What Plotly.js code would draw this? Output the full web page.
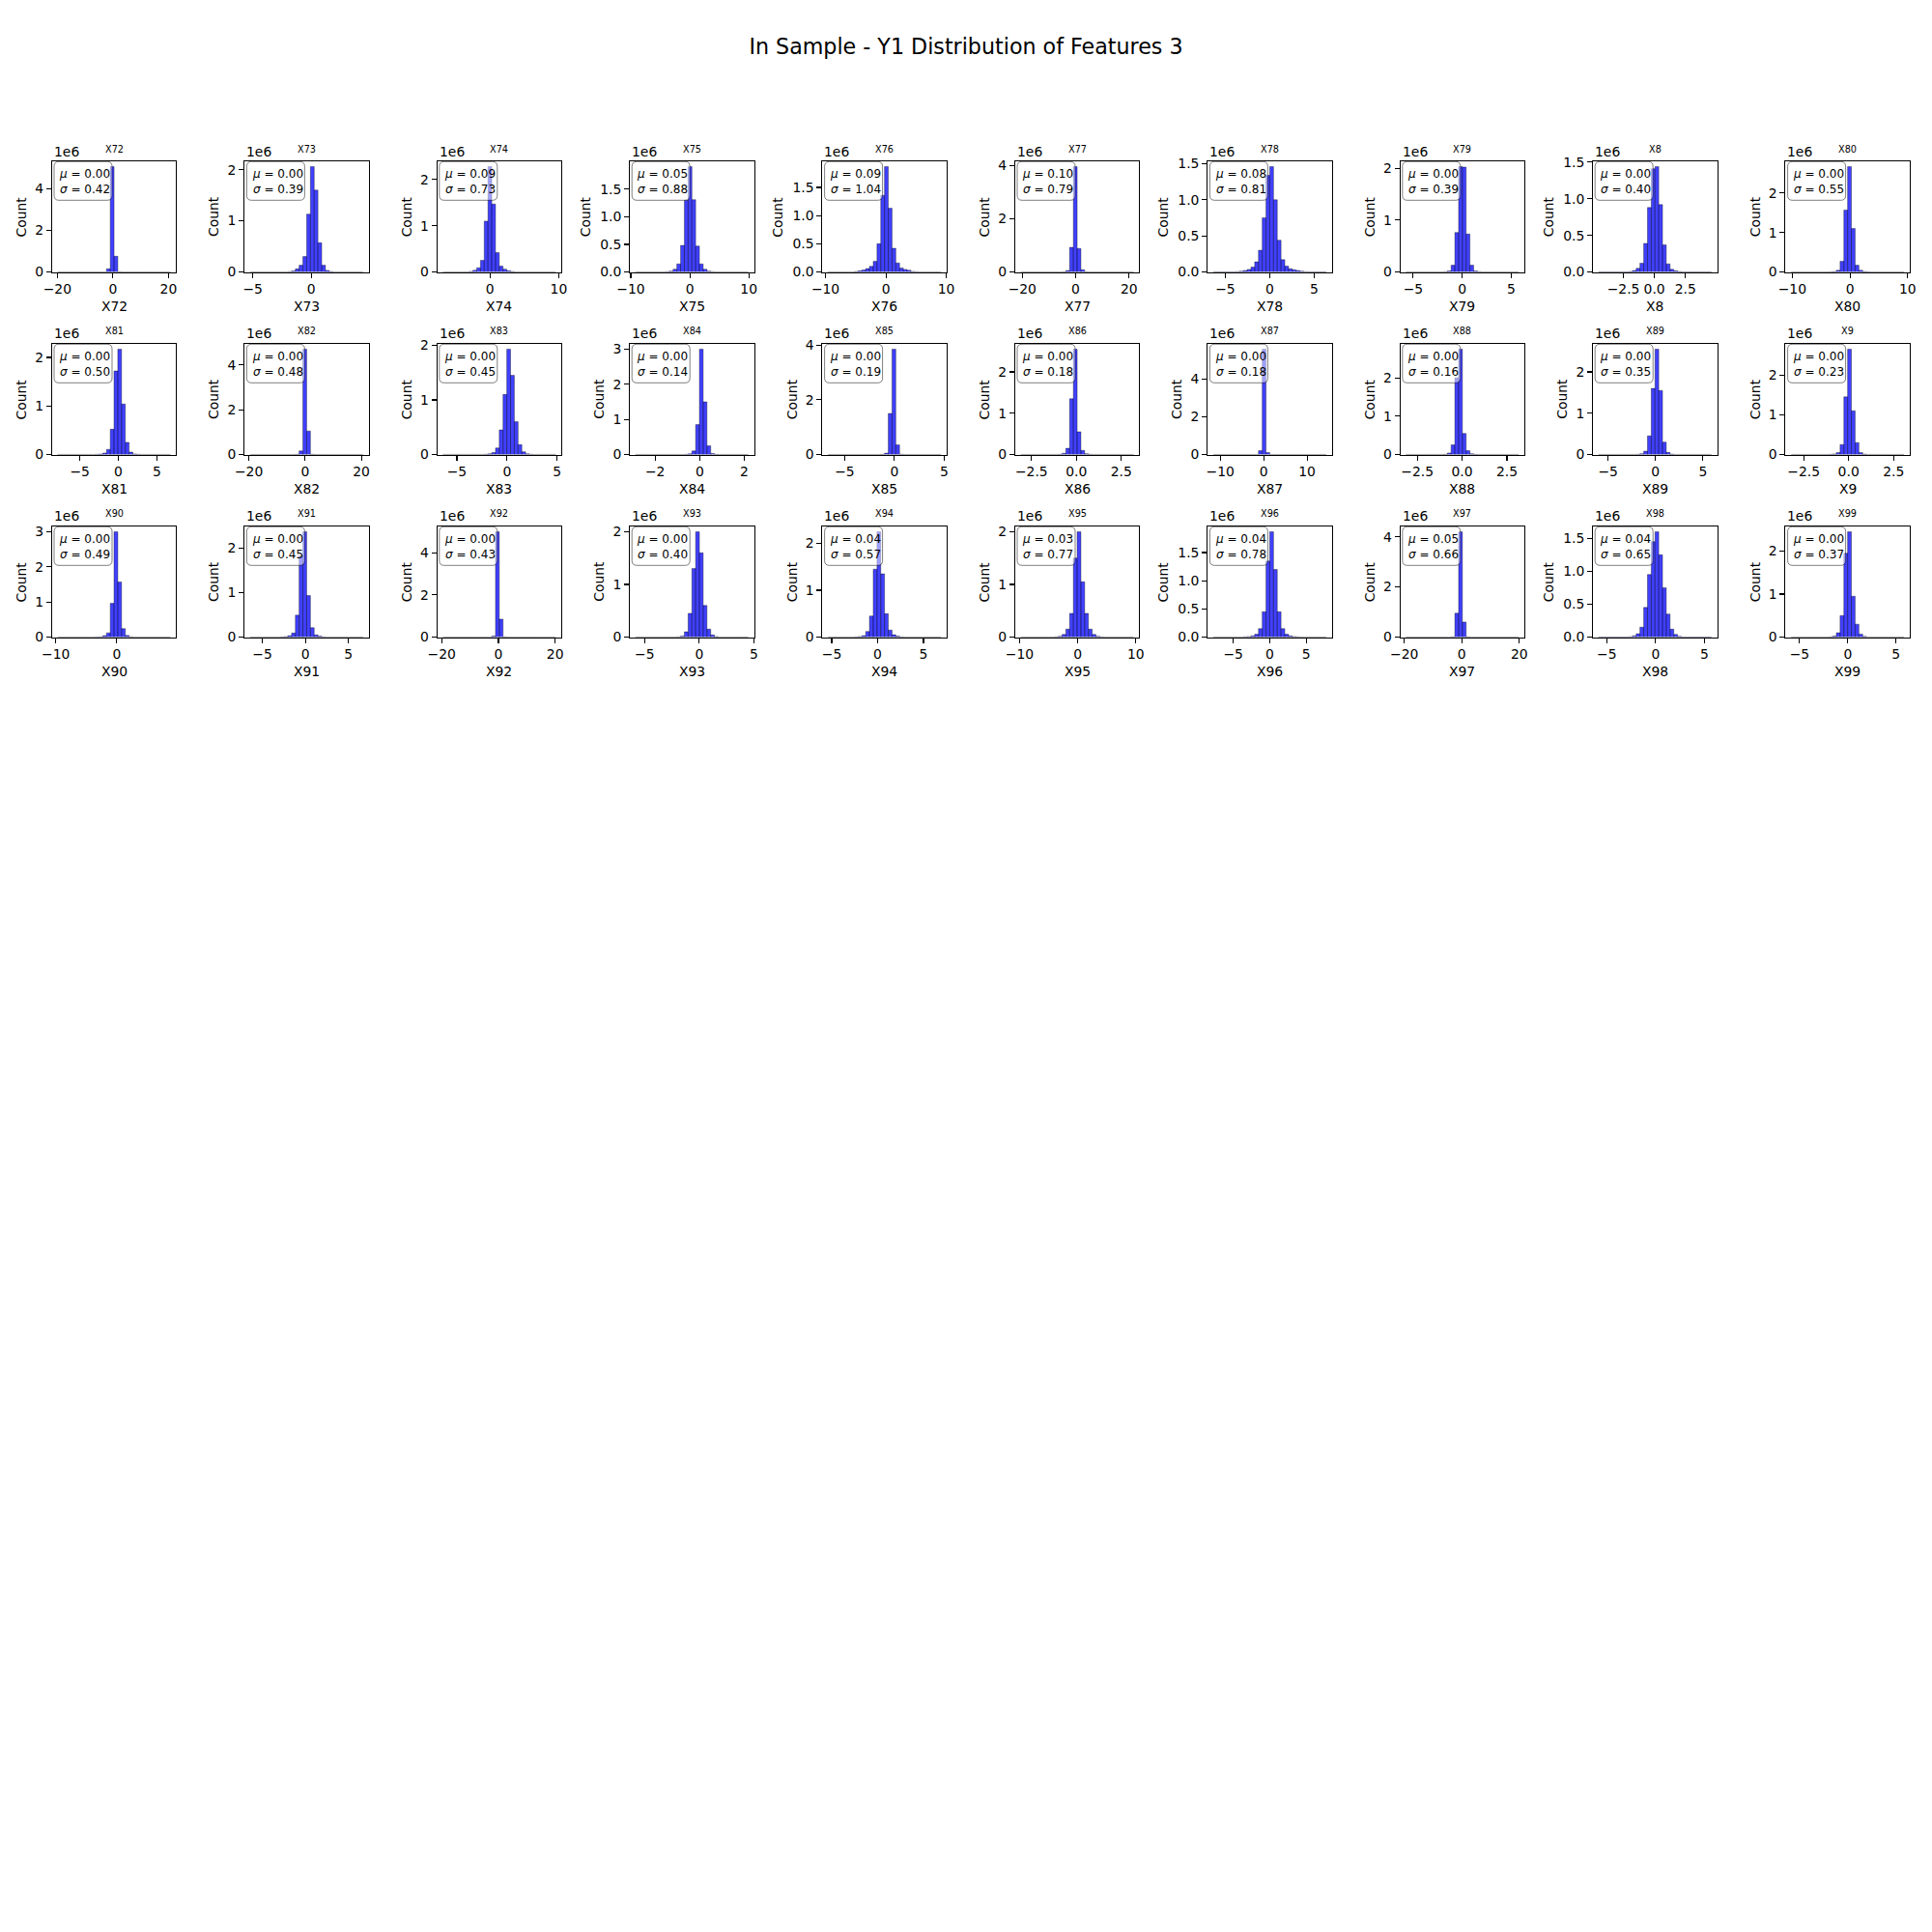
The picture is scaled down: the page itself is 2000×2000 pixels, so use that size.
<!DOCTYPE html>
<html><head><meta charset="utf-8">
<script src="https://cdn.plot.ly/plotly-3.0.1.min.js"></script>
<style>body{margin:0;padding:0;background:#fff}</style>
</head><body>
<div id="chart" style="width:2000px;height:2000px"></div>
<script>
const chartTitle = 'In Sample - Y1 Distribution of Features 3';
const features = ['X72','X73','X74','X75','X76','X77','X78','X79','X8','X80',
                  'X81','X82','X83','X84','X85','X86','X87','X88','X89','X9',
                  'X90','X91','X92','X93','X94','X95','X96','X97','X98','X99'];
const muVals = ['0.00','0.00','0.09','0.05','0.09','0.10','0.08','0.00','0.00','0.00',
                '0.00','0.00','0.00','0.00','0.00','0.00','0.00','0.00','0.00','0.00',
                '0.00','0.00','0.00','0.00','0.04','0.03','0.04','0.05','0.04','0.00'];
const sigmaVals = ['0.42','0.39','0.73','0.88','1.04','0.79','0.81','0.39','0.40','0.55',
                   '0.50','0.48','0.45','0.14','0.19','0.18','0.18','0.16','0.35','0.23',
                   '0.49','0.45','0.43','0.40','0.57','0.77','0.78','0.66','0.65','0.37'];
// data range (min, max) of each feature
const binLo = [-19.9,-5.22,-6.85,-9.21,-9.57,-20.6,-6.35,-5.73,-4.5,-10.19,
               -7.89,-19.5,-6.4,-2.88,-6.66,-3.1,-11.6,-3.13,-6.0,-3.19,
               -9.7,-6.4,-19.6,-5.83,-5.4,-9.8,-7.73,-19.4,-5.84,-5.87];
const binHi = [20.7,4.44,9.56,9.92,9.12,21.7,6.35,5.77,4.6,9.36,
               6.77,20.6,4.86,2.18,4.67,3.18,14.4,3.16,5.9,3.08,
               8.8,6.7,20.2,4.49,6.9,9.6,7.73,19.8,5.72,5.83];
const xTickVals = [[-20,0,20],[-5,0],[0,10],[-10,0,10],[-10,0,10],[-20,0,20],[-5,0,5],[-5,0,5],[-2.5,0,2.5],[-10,0,10],
                   [-5,0,5],[-20,0,20],[-5,0,5],[-2,0,2],[-5,0,5],[-2.5,0,2.5],[-10,0,10],[-2.5,0,2.5],[-5,0,5],[-2.5,0,2.5],
                   [-10,0],[-5,0,5],[-20,0,20],[-5,0,5],[-5,0,5],[-10,0,10],[-5,0,5],[-20,0,20],[-5,0,5],[-5,0,5]];
const yTickVals = [[0,2,4],[0,1,2],[0,1,2],[0,0.5,1,1.5],[0,0.5,1,1.5],[0,2,4],[0,0.5,1,1.5],[0,1,2],[0,0.5,1,1.5],[0,1,2],
                   [0,1,2],[0,2,4],[0,1,2],[0,1,2,3],[0,2,4],[0,1,2],[0,2,4],[0,1,2],[0,1,2],[0,1,2],
                   [0,1,2,3],[0,1,2],[0,2,4],[0,1,2],[0,1,2],[0,1,2],[0,0.5,1,1.5],[0,2,4],[0,0.5,1,1.5],[0,1,2]];
const countUnit = '1e6';
// counts per bin (30 bins), in millions
const cX72 = [0.002,0.002,0.002,0.002,0.002,0.002,0.002,0.002,0.002,0.002,0.002,0.002,0.004,0.15,5.05,0.75,0.006,0.002,0.002,0.002,0.002,0.002,0.002,0.002,0.002,0.002,0.002,0.002,0.002,0.002];
const cX73 = [0.002,0.002,0.002,0.002,0.002,0.002,0.002,0.002,0.002,0.002,0.006,0.02,0.06,0.13,0.30,1.13,2.06,1.60,0.57,0.13,0.03,0.008,0.002,0.002,0.002,0.002,0.002,0.002,0.002,0.002];
const cX74 = [0.002,0.002,0.002,0.002,0.002,0.002,0.002,0.012,0.035,0.09,0.25,1.10,2.28,1.47,0.42,0.125,0.06,0.025,0.01,0.002,0.002,0.002,0.002,0.002,0.002,0.002,0.002,0.002,0.002,0.002];
const cX75 = [0.002,0.002,0.002,0.002,0.002,0.002,0.002,0.002,0.005,0.015,0.05,0.145,0.48,1.30,1.91,1.31,0.47,0.145,0.05,0.015,0.005,0.002,0.002,0.002,0.002,0.002,0.002,0.002,0.002,0.002];
const cX76 = [0.002,0.002,0.002,0.002,0.002,0.002,0.002,0.008,0.02,0.035,0.06,0.10,0.19,0.50,1.36,1.87,1.13,0.42,0.16,0.07,0.045,0.03,0.01,0.004,0.002,0.002,0.002,0.002,0.002,0.002];
const cX77 = [0.002,0.002,0.002,0.002,0.002,0.002,0.002,0.002,0.002,0.002,0.002,0.006,0.05,0.92,3.95,0.88,0.08,0.006,0.002,0.002,0.002,0.002,0.002,0.002,0.002,0.002,0.002,0.002,0.002,0.002];
const cX78 = [0.002,0.002,0.002,0.002,0.002,0.002,0.005,0.01,0.02,0.035,0.067,0.14,0.30,0.75,1.34,1.46,1.00,0.44,0.17,0.08,0.045,0.03,0.02,0.01,0.005,0.002,0.002,0.002,0.002,0.002];
const cX79 = [0.002,0.002,0.002,0.002,0.002,0.002,0.002,0.002,0.002,0.002,0.005,0.02,0.13,0.76,2.03,2.02,0.73,0.13,0.02,0.005,0.002,0.002,0.002,0.002,0.002,0.002,0.002,0.002,0.002,0.002];
const cX8  = [0.002,0.002,0.002,0.002,0.002,0.002,0.002,0.002,0.006,0.02,0.05,0.12,0.39,0.88,1.41,1.44,0.92,0.37,0.11,0.035,0.015,0.005,0.002,0.002,0.002,0.002,0.002,0.002,0.002,0.002];
const cX80 = [0.002,0.002,0.002,0.002,0.002,0.002,0.002,0.002,0.002,0.002,0.004,0.01,0.04,0.27,1.57,2.67,1.10,0.17,0.04,0.01,0.004,0.002,0.002,0.002,0.002,0.002,0.002,0.002,0.002,0.002];
const cX81 = [0.002,0.002,0.002,0.002,0.002,0.002,0.002,0.002,0.002,0.002,0.004,0.01,0.03,0.105,0.52,1.72,2.17,1.04,0.25,0.05,0.012,0.004,0.002,0.002,0.002,0.002,0.002,0.002,0.002,0.002];
const cX82 = [0.002,0.002,0.002,0.002,0.002,0.002,0.002,0.002,0.002,0.002,0.002,0.002,0.008,0.16,4.70,1.05,0.01,0.002,0.002,0.002,0.002,0.002,0.002,0.002,0.002,0.002,0.002,0.002,0.002,0.002];
const cX83 = [0.002,0.002,0.002,0.002,0.002,0.002,0.002,0.002,0.002,0.002,0.002,0.005,0.012,0.035,0.12,0.45,1.10,1.93,1.45,0.60,0.18,0.05,0.012,0.004,0.002,0.002,0.002,0.002,0.002,0.002];
const cX84 = [0.002,0.002,0.002,0.002,0.002,0.002,0.002,0.002,0.002,0.002,0.002,0.002,0.002,0.005,0.02,0.10,0.85,3.00,1.50,0.25,0.03,0.005,0.002,0.002,0.002,0.002,0.002,0.002,0.002,0.002];
const cX85 = [0.002,0.002,0.002,0.002,0.002,0.002,0.002,0.002,0.002,0.002,0.002,0.002,0.002,0.002,0.006,0.05,1.50,3.85,0.35,0.01,0.002,0.002,0.002,0.002,0.002,0.002,0.002,0.002,0.002,0.002];
const cX86 = [0.002,0.002,0.002,0.002,0.002,0.002,0.002,0.002,0.002,0.002,0.005,0.03,0.15,1.35,2.55,0.55,0.10,0.02,0.005,0.002,0.002,0.002,0.002,0.002,0.002,0.002,0.002,0.002,0.002,0.002];
const cX87 = [0.002,0.002,0.002,0.002,0.002,0.002,0.002,0.002,0.002,0.002,0.002,0.005,0.20,5.60,0.10,0.005,0.002,0.002,0.002,0.002,0.002,0.002,0.002,0.002,0.002,0.002,0.002,0.002,0.002,0.002];
const cX88 = [0.002,0.002,0.002,0.002,0.002,0.002,0.002,0.002,0.002,0.002,0.005,0.04,0.25,2.00,2.75,0.55,0.10,0.02,0.005,0.002,0.002,0.002,0.002,0.002,0.002,0.002,0.002,0.002,0.002,0.002];
const cX89 = [0.002,0.002,0.002,0.002,0.002,0.002,0.002,0.002,0.002,0.002,0.005,0.02,0.08,0.45,1.60,2.55,1.55,0.30,0.05,0.01,0.002,0.002,0.002,0.002,0.002,0.002,0.002,0.002,0.002,0.002];
const cX9  = [0.002,0.002,0.002,0.002,0.002,0.002,0.002,0.002,0.002,0.002,0.005,0.015,0.05,0.25,1.45,2.65,1.10,0.30,0.05,0.01,0.002,0.002,0.002,0.002,0.002,0.002,0.002,0.002,0.002,0.002];
const cX90 = [0.002,0.002,0.002,0.002,0.002,0.002,0.002,0.002,0.002,0.002,0.004,0.01,0.04,0.12,0.96,3.00,1.57,0.24,0.045,0.01,0.002,0.002,0.002,0.002,0.002,0.002,0.002,0.002,0.002,0.002];
const cX91 = [0.002,0.002,0.002,0.002,0.002,0.002,0.002,0.002,0.005,0.012,0.03,0.09,0.49,1.82,2.36,0.93,0.21,0.05,0.02,0.006,0.002,0.002,0.002,0.002,0.002,0.002,0.002,0.002,0.002,0.002];
const cX92 = [0.002,0.002,0.002,0.002,0.002,0.002,0.002,0.002,0.002,0.002,0.002,0.002,0.005,0.05,5.00,0.85,0.01,0.002,0.002,0.002,0.002,0.002,0.002,0.002,0.002,0.002,0.002,0.002,0.002,0.002];
const cX93 = [0.002,0.002,0.002,0.002,0.002,0.002,0.002,0.002,0.002,0.002,0.002,0.005,0.02,0.10,0.45,1.30,2.00,1.60,0.60,0.15,0.04,0.01,0.002,0.002,0.002,0.002,0.002,0.002,0.002,0.002];
const cX94 = [0.002,0.002,0.002,0.002,0.002,0.002,0.002,0.005,0.012,0.03,0.12,0.45,1.45,2.25,1.35,0.50,0.15,0.05,0.02,0.006,0.002,0.002,0.002,0.002,0.002,0.002,0.002,0.002,0.002,0.002];
const cX95 = [0.002,0.002,0.002,0.002,0.002,0.002,0.002,0.002,0.002,0.005,0.015,0.05,0.15,0.45,1.50,2.00,1.05,0.45,0.15,0.05,0.015,0.005,0.002,0.002,0.002,0.002,0.002,0.002,0.002,0.002];
const cX96 = [0.002,0.002,0.002,0.002,0.002,0.002,0.002,0.002,0.006,0.01,0.02,0.05,0.15,0.45,1.35,1.87,1.20,0.45,0.15,0.05,0.02,0.01,0.005,0.002,0.002,0.002,0.002,0.002,0.002,0.002];
const cX97 = [0.002,0.002,0.002,0.002,0.002,0.002,0.002,0.002,0.002,0.002,0.002,0.002,0.01,0.95,4.20,0.60,0.01,0.002,0.002,0.002,0.002,0.002,0.002,0.002,0.002,0.002,0.002,0.002,0.002,0.002];
const cX98 = [0.002,0.002,0.002,0.002,0.002,0.002,0.002,0.002,0.005,0.02,0.05,0.15,0.45,0.95,1.45,1.60,1.25,0.75,0.35,0.12,0.04,0.01,0.002,0.002,0.002,0.002,0.002,0.002,0.002,0.002];
const cX99 = [0.002,0.002,0.002,0.002,0.002,0.002,0.002,0.002,0.002,0.002,0.005,0.02,0.10,0.50,1.95,2.45,0.95,0.30,0.07,0.015,0.002,0.002,0.002,0.002,0.002,0.002,0.002,0.002,0.002,0.002];
const countsList = [cX72,cX73,cX74,cX75,cX76,cX77,cX78,cX79,cX8,cX80,
                    cX81,cX82,cX83,cX84,cX85,cX86,cX87,cX88,cX89,cX9,
                    cX90,cX91,cX92,cX93,cX94,cX95,cX96,cX97,cX98,cX99];

const FONT = '"DejaVu Sans", sans-serif';
const W = 2000, H = 2000;
const AX_W = 128.5, AX_H = 114.5;
function fmt(v, dec) {
  const s = dec ? v.toFixed(1) : String(v);
  return s.replace('-', '\u2212');
}
// rounded box path in axis-domain units (pixel sizes converted)
function roundBox(x0p, y0p, wp, hp, rp) {
  const x0 = x0p / AX_W, x1 = (x0p + wp) / AX_W;
  const yT = 1 - y0p / AX_H, yB = 1 - (y0p + hp) / AX_H;
  const rx = rp / AX_W, ry = rp / AX_H;
  return `M${x0 + rx},${yT} L${x1 - rx},${yT} Q${x1},${yT} ${x1},${yT - ry} L${x1},${yB + ry} Q${x1},${yB} ${x1 - rx},${yB} ` +
         `L${x0 + rx},${yB} Q${x0},${yB} ${x0},${yB + ry} L${x0},${yT - ry} Q${x0},${yT} ${x0 + rx},${yT} Z`;
}
const traces = [];
const annotations = [];
const shapes = [];
const layout = {
  width: W, height: H,
  margin: {l: 0, r: 0, t: 0, b: 0},
  paper_bgcolor: 'white', plot_bgcolor: 'white',
  showlegend: false, bargap: 0,
  font: {family: FONT, color: 'black', size: 13.9},
  title: {text: chartTitle, font: {family: FONT, size: 22.2, color: 'black'},
          x: 0.5, xanchor: 'center', xref: 'paper', y: 1 - 48.5 / H, yanchor: 'middle', yref: 'paper'},
  annotations: annotations,
  shapes: shapes
};
features.forEach((f, i) => {
  const row = Math.floor(i / 10), col = i % 10;
  const ax = i === 0 ? '' : String(i + 1);
  const lo = binLo[i], hi = binHi[i], counts = countsList[i];
  const w = (hi - lo) / counts.length;
  const centers = counts.map((_, k) => lo + w * (k + 0.5));
  traces.push({
    type: 'bar', x: centers, y: counts, width: w,
    xaxis: 'x' + ax, yaxis: 'y' + ax,
    marker: {color: 'rgba(0,0,255,0.75)', line: {color: 'rgba(0,0,0,0.45)', width: 0.8}},
    hoverinfo: 'skip', showlegend: false
  });
  const L = 53.8 + 199.4 * col, T = 167 + 189 * row;
  const span = hi - lo;
  const ymax = Math.max(...counts) * 1.05;
  const xt = xTickVals[i], yt = yTickVals[i];
  const xdec = xt.some(t => !Number.isInteger(t));
  const ydec = yt.some(t => !Number.isInteger(t));
  const common = {
    showline: true, mirror: true, linecolor: 'black', linewidth: 1.1,
    ticks: 'outside', ticklen: 4.9, tickwidth: 1.1, tickcolor: 'black',
    showgrid: false, zeroline: false, fixedrange: true,
    tickfont: {family: FONT, size: 13.9, color: 'black'}, tickmode: 'array'
  };
  layout['xaxis' + ax] = Object.assign({}, common, {
    domain: [L / W, (L + AX_W) / W], anchor: 'y' + ax,
    range: [lo - 0.05 * span, hi + 0.05 * span],
    tickvals: xt, ticktext: xt.map(t => fmt(t, xdec))
  });
  layout['yaxis' + ax] = Object.assign({}, common, {
    domain: [1 - (T + AX_H) / H, 1 - T / H], anchor: 'x' + ax,
    range: [0, ymax],
    tickvals: yt, ticktext: yt.map(t => fmt(t, ydec))
  });
  const xr = 'x' + ax + ' domain', yr = 'y' + ax + ' domain';
  shapes.push({type: 'path', xref: xr, yref: yr, layer: 'above',
    path: roundBox(2.2, 0.3, 60, 40, 5),
    fillcolor: 'rgba(255,255,255,0.5)', line: {color: 'rgba(0,0,0,0.5)', width: 1}});
  annotations.push({xref: xr, yref: yr, x: 0.5, y: 1, xanchor: 'center', yanchor: 'middle', yshift: 13,
    text: f, showarrow: false, font: {family: FONT, size: 9.7, color: 'black'}});
  annotations.push({xref: xr, yref: yr, x: 0, y: 1, xanchor: 'left', yanchor: 'middle', yshift: 10.5,
    text: countUnit, showarrow: false, font: {family: FONT, size: 13.9, color: 'black'}});
  annotations.push({xref: xr, yref: yr, x: 0.5, y: 0, xanchor: 'center', yanchor: 'middle', yshift: -35.7,
    text: f, showarrow: false, font: {family: FONT, size: 13.9, color: 'black'}});
  annotations.push({xref: xr, yref: yr, x: 0, y: 0.5, xanchor: 'center', yanchor: 'middle', xshift: ydec ? -46 : -31.5,
    text: 'Count', textangle: -90, showarrow: false, font: {family: FONT, size: 13.9, color: 'black'}});
  annotations.push({xref: xr, yref: yr, x: 0, y: 1, xanchor: 'left', yanchor: 'top', xshift: 2.4, yshift: -0.8,
    text: '<i>\u03bc</i> = ' + muVals[i] + '<br><i>\u03c3</i> = ' + sigmaVals[i],
    align: 'left', showarrow: false, font: {family: FONT, size: 12, color: 'black'},
    borderpad: 5, borderwidth: 0});
});
Plotly.newPlot('chart', traces, layout, {displayModeBar: false, staticPlot: true});
</script>
</body></html>
